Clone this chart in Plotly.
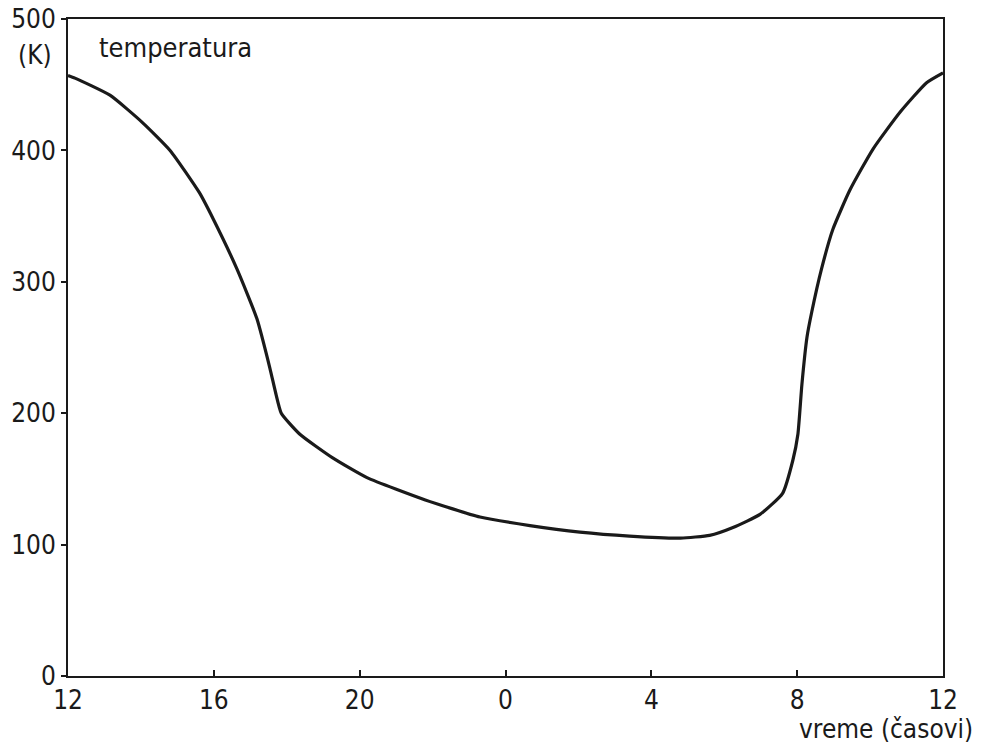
import plotly.graph_objects as go

# hours (continuous, 12 -> 36 meaning 12h of the next day)
hours = [12.0, 12.19, 13.15, 14.05, 14.8, 15.6, 15.98, 16.63, 17.18, 17.54, 17.7, 17.85,
         18.36, 19.26, 20.2, 21.8, 23.3, 24.67, 26.04, 27.4, 28.8, 29.6, 30.24, 30.98,
         31.6, 31.88, 32.02, 32.13, 32.27, 32.4, 32.67, 32.98, 33.45, 34.08, 34.82, 35.55, 36.0]
temps = [457, 455, 442, 421, 400, 368, 348, 310, 272, 234, 215, 200,
         184, 166, 151, 134, 121, 114.5, 109.5, 106.5, 105, 107, 113, 123,
         139, 164, 184, 222, 258, 277, 310, 340, 370, 401, 429, 451.5, 459]

tick_vals = [12, 16, 20, 24, 28, 32, 36]
tick_text = ["12", "16", "20", "0", "4", "8", "12"]
y_ticks = [0, 100, 200, 300, 400, 500]

FONT = "Liberation Sans Narrow, DejaVu Sans Condensed, DejaVu Sans"
INK = "#1a1a1a"

fig = go.Figure()
fig.add_trace(go.Scatter(x=hours, y=temps, mode="lines",
                         line=dict(color=INK, width=3.2, shape="spline", smoothing=0.5),
                         showlegend=False, hoverinfo="skip"))

fig.update_layout(
    width=982, height=747,
    margin=dict(l=68, r=39, t=19, b=71, autoexpand=False),
    paper_bgcolor="white", plot_bgcolor="white",
    font=dict(family=FONT, size=26, color=INK),
    xaxis=dict(range=[12, 36], tickvals=tick_vals, ticktext=tick_text, automargin=False,
               showgrid=False, zeroline=False, showline=True, linecolor=INK,
               linewidth=2, mirror=True, ticks="inside", ticklen=6, tickwidth=2,
               tickcolor=INK, tickfont=dict(size=26, family=FONT)),
    yaxis=dict(range=[0, 500], tickvals=y_ticks, ticklabeloverflow="allow", automargin=False,
               showgrid=False, zeroline=False, showline=True, linecolor=INK,
               linewidth=2, mirror=True, ticks="outside", ticklen=5, tickwidth=1.5,
               tickcolor=INK, tickfont=dict(size=26, family=FONT)),
    annotations=[
        dict(text="temperatura", xref="paper", yref="paper", x=0.033, y=0.956,
             xanchor="left", yanchor="middle", showarrow=False,
             font=dict(size=27, family=FONT)),
        dict(text="(K)", xref="paper", yref="paper", x=-0.038, y=0.945,
             xanchor="center", yanchor="middle", showarrow=False,
             font=dict(size=26, family=FONT)),
        dict(text="vreme (časovi)", xref="paper", yref="paper", x=1.037, y=-0.080,
             xanchor="right", yanchor="middle", showarrow=False,
             font=dict(size=26, family=FONT)),
    ],
)

fig.write_html("out.html", config={"displayModeBar": False},
               post_script="document.body.style.margin='0';")
